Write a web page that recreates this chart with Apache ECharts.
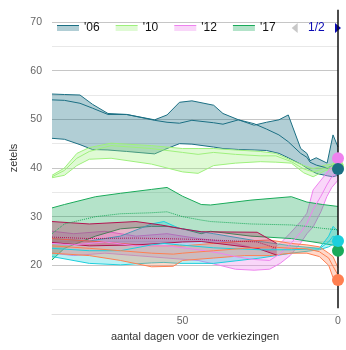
<!DOCTYPE html>
<html><head><meta charset="utf-8">
<script src="https://cdn.jsdelivr.net/npm/echarts@6/dist/echarts.min.js"></script>
<style>html,body{margin:0;padding:0;background:#fff}#c{width:346px;height:350px}</style>
</head><body><div id="c"></div>
<script>
// ---- data ----
const elections = ["'06", "'10", "'12", "'17", "'21", "'23", "'25"];

const days06 = [92, 88, 83, 79, 74, 68, 59, 55, 51, 47, 40, 37, 32, 27, 23, 19, 16, 12, 10, 9, 7, 3.5, 1.6, 0];
const hi06   = [55.2, 55.1, 55.0, 53.1, 51.2, 51.0, 49.9, 50.9, 53.5, 53.8, 52.9, 51.2, 49.9, 48.8, 49.4, 49.9, 50.9, 44.0, 43.0, 41.5, 42.1, 41.0, 46.8, 44.3];
const mid06  = [54.0, 53.9, 53.3, 52.3, 51.0, 51.0, 49.8, 49.4, 49.2, 49.8, 49.3, 49.0, 49.9, 49.1, 48.0, 46.8, 45.4, 43.0, 42.2, 41.2, 40.6, 40.0, 40.5, 40.0];
const lo06   = [46.1, 45.9, 44.8, 43.8, 43.7, 43.4, 42.9, 44.0, 45.0, 44.9, 44.3, 44.0, 43.8, 43.7, 43.6, 43.0, 42.1, 40.8, 40.0, 39.6, 38.9, 38.4, 38.2, 38.5];

const days10 = [92, 88, 84, 80, 73, 60, 50, 45, 40, 33, 25, 20, 15, 11, 8, 4, 0];
const hi10   = [38.5, 40.0, 43.0, 44.2, 45.1, 44.6, 44.0, 44.0, 44.0, 43.7, 43.4, 43.0, 41.6, 40.5, 39.9, 40.6, 41.0];
const mid10  = [38.2, 39.5, 42.0, 43.4, 44.6, 44.0, 43.2, 42.8, 43.2, 42.8, 42.5, 42.5, 41.3, 39.8, 39.2, 40.0, 40.6];
const lo10   = [38.0, 38.5, 40.5, 41.8, 42.0, 40.8, 39.2, 38.9, 40.5, 41.0, 41.3, 41.2, 41.0, 39.0, 38.2, 39.5, 40.0];

const days12 = [92, 85, 75, 65, 55, 45, 38, 33, 27, 22, 18.6, 15.4, 12, 10, 8, 5.5, 3.6, 2, 0];
const hi12   = [27.0, 26.5, 27.0, 26.0, 26.5, 25.5, 25.0, 24.5, 23.5, 23.0, 24.5, 26.6, 29.0, 30.7, 35.5, 37.5, 39.0, 40.3, 41.0];
const mid12  = [24.5, 24.2, 24.8, 24.0, 24.0, 23.2, 22.5, 21.8, 21.2, 21.0, 22.4, 24.3, 26.8, 28.6, 31.5, 34.2, 36.5, 38.2, 39.2];
const lo12   = [22.5, 22.0, 22.5, 22.0, 21.5, 21.0, 20.0, 19.2, 19.0, 19.2, 20.4, 22.0, 24.6, 26.5, 27.9, 31.0, 34.1, 36.0, 37.5];

const days17 = [92, 88, 78, 70, 60, 55, 50, 44, 41, 28, 15, 10, 5, 0];
const hi17   = [31.8, 32.5, 34.1, 34.8, 35.6, 36.0, 34.2, 32.5, 32.4, 33.4, 34.1, 33.0, 32.5, 32.1];
const mid17  = [26.5, 28.5, 30.0, 30.6, 30.8, 31.0, 30.0, 29.3, 29.0, 28.5, 28.3, 28.0, 27.6, 27.3];
const lo17   = [21.1, 23.5, 26.0, 27.5, 28.0, 28.0, 27.5, 26.5, 27.0, 26.0, 25.5, 25.0, 24.5, 24.0];

const days21 = [92, 80, 70, 60, 56, 51, 40, 25, 15, 6, 3, 1.6, 0];
const hi21   = [25.5, 25.0, 26.0, 28.5, 29.0, 27.6, 26.5, 24.9, 24.0, 23.5, 26.0, 28.0, 27.0];
const mid21  = [23.5, 23.0, 23.0, 24.2, 24.5, 24.2, 23.6, 23.2, 23.2, 23.4, 24.8, 26.0, 25.5];
const lo21   = [21.8, 20.4, 20.1, 20.5, 20.6, 20.4, 20.4, 21.5, 22.5, 23.2, 23.8, 24.3, 24.5];

const days23 = [92, 80, 70, 60, 53, 50, 40, 30, 22, 15, 10, 6, 3, 1.6, 0];
const hi23   = [25.5, 25.0, 24.5, 24.0, 24.0, 24.0, 24.5, 25.0, 25.2, 24.5, 24.2, 23.8, 22.5, 21.8, 19.5];
const mid23  = [24.0, 23.5, 23.0, 22.5, 22.3, 22.5, 23.0, 23.5, 23.8, 23.5, 23.4, 22.8, 21.5, 19.8, 18.0];
const lo23   = [22.5, 22.0, 21.0, 19.7, 19.8, 21.0, 21.5, 22.0, 22.0, 22.5, 22.5, 21.8, 20.0, 17.5, 16.8];

const days25 = [92, 80, 65, 57, 50, 44, 26, 19.7];
const hi25   = [29.0, 28.5, 29.0, 28.3, 27.5, 26.9, 26.8, 24.5];
const mid25  = [25.8, 25.5, 25.6, 25.5, 25.4, 25.3, 24.8, 23.5];
const lo25   = [24.7, 24.0, 24.2, 24.5, 24.8, 24.9, 23.5, 22.1];

const results = [39.8, 40.3, 42.0, 23.0, 25.0, 17.0, null];
const zeroLineDays = [0, 0];
const zeroLineSeats = [72.5, 11.2];

// ---- styling ----
const lineColors = ['#1b6f83', '#9ef07c', '#ee82ee', '#1aaa5a', '#1ccfdc', '#ff7f50', '#b3124f'];
const fillAlpha = [0.34, 0.33, 0.33, 0.33, 0.3, 0.3, 0.3];
const midDotted = [false, false, false, true, false, false, true];
const dotZ = [8, 7, 7, 7, 7, 7, 7];
const sets = [
  [days06, lo06, mid06, hi06], [days10, lo10, mid10, hi10], [days12, lo12, mid12, hi12],
  [days17, lo17, mid17, hi17], [days21, lo21, mid21, hi21], [days23, lo23, mid23, hi23],
  [days25, lo25, mid25, hi25]
];
function rgba(hex, a) {
  const n = parseInt(hex.slice(1), 16);
  return 'rgba(' + (n >> 16 & 255) + ',' + (n >> 8 & 255) + ',' + (n & 255) + ',' + a + ')';
}
function mix(hex, a) {
  const n = parseInt(hex.slice(1), 16);
  const c = [n >> 16 & 255, n >> 8 & 255, n & 255].map(v => Math.round(255 - a * (255 - v)));
  return 'rgb(' + c.join(',') + ')';
}

const FONT = 'Liberation Sans, Arial, sans-serif';
const series = [];
elections.forEach((name, i) => {
  const [d, lo, mid, hi] = sets[i];
  const col = lineColors[i];
  series.push({
    type: 'custom', name, silent: true, z: 2,
    itemStyle: { color: col },
    data: [[d[0], hi[0]]],
    encode: { x: 0, y: 1 },
    renderItem: (params, api) => {
      const up = d.map((x, k) => api.coord([x, hi[k]]));
      const dn = d.map((x, k) => api.coord([x, lo[k]]));
      return {
        type: 'group', children: [
          { type: 'polygon', shape: { points: up.concat(dn.slice().reverse()) },
            style: { fill: rgba(col, fillAlpha[i]), stroke: null } },
          { type: 'polyline', shape: { points: up }, style: { stroke: col, lineWidth: 1, fill: null } },
          { type: 'polyline', shape: { points: dn }, style: { stroke: col, lineWidth: 1, fill: null } }
        ]
      };
    }
  });
  series.push({
    type: 'line', name, symbol: 'none', silent: true,
    data: d.map((x, k) => [x, mid[k]]),
    lineStyle: { color: col, width: 1, type: midDotted[i] ? 'dotted' : 'solid' },
    itemStyle: { color: col }, z: 3
  });
  if (results[i] !== null) {
    series.push({
      type: 'scatter', name, symbolSize: 12, silent: true,
      data: [[0, results[i]]], itemStyle: { color: col, opacity: 1 }, z: dotZ[i]
    });
  }
});
series.push({
  type: 'line', name: 'nul', symbol: 'none', silent: true, clip: false,
  data: zeroLineDays.map((x, k) => [x, zeroLineSeats[k]]),
  lineStyle: { color: '#111', width: 1.5 }, z: 5
});

const yGridColors = [];
for (let v = 10; v <= 70; v += 5) yGridColors.push((v % 10 === 0 && v > 10) ? '#c6c6c6' : '#e8e8e8');

const chart = echarts.init(document.getElementById('c'), null, { renderer: 'canvas' });
chart.setOption({
  animation: false,
  textStyle: { fontFamily: FONT },
  grid: { left: 52, right: 8, top: 22, bottom: 36 },
  legend: {
    type: 'scroll', left: 52, right: 8, top: 17,
    itemWidth: 22, itemHeight: 6, itemGap: 16,
    textStyle: { color: '#111', fontSize: 12, fontFamily: FONT },
    pageIconColor: '#0a0ab4', pageIconInactiveColor: '#c8c8c8', pageIconSize: 10,
    pageTextStyle: { color: '#0a0ab4', fontSize: 12, fontFamily: FONT },
    data: elections.map((n, i) => ({
      name: n, icon: 'rect',
      itemStyle: {
        borderWidth: 0,
        color: { type: 'linear', x: 0, y: 0, x2: 0, y2: 1, colorStops: [
          { offset: 0, color: lineColors[i] }, { offset: 0.2, color: lineColors[i] },
          { offset: 0.2, color: mix(lineColors[i], fillAlpha[i]) }, { offset: 1, color: mix(lineColors[i], fillAlpha[i]) }
        ] }
      }
    }))
  },
  xAxis: {
    type: 'value', inverse: true, min: 0, max: 92, interval: 50,
    axisLine: { show: true, lineStyle: { color: '#e0e0e0' } },
    axisTick: { show: false },
    axisLabel: { color: '#666', fontSize: 10.5, margin: 2, showMaxLabel: false, fontFamily: FONT },
    splitLine: { show: false },
    name: 'aantal dagen voor de verkiezingen', nameLocation: 'middle', nameGap: 16,
    nameTextStyle: { color: '#333', fontSize: 11, fontFamily: FONT }
  },
  yAxis: {
    type: 'value', min: 10, max: 70, interval: 5,
    axisLine: { show: false }, axisTick: { show: false },
    axisLabel: { color: '#666', fontSize: 10.5, margin: 10, fontFamily: FONT,
      formatter: v => (v % 10 === 0 && v > 10) ? String(v) : '' },
    splitLine: { show: true, lineStyle: { color: yGridColors, width: 1 } },
    name: 'zetels', nameLocation: 'middle', nameGap: 32,
    nameTextStyle: { color: '#333', fontSize: 11, fontFamily: FONT, padding: [0, 0, 0, 20] }
  },
  series
});
</script>
</body></html>
